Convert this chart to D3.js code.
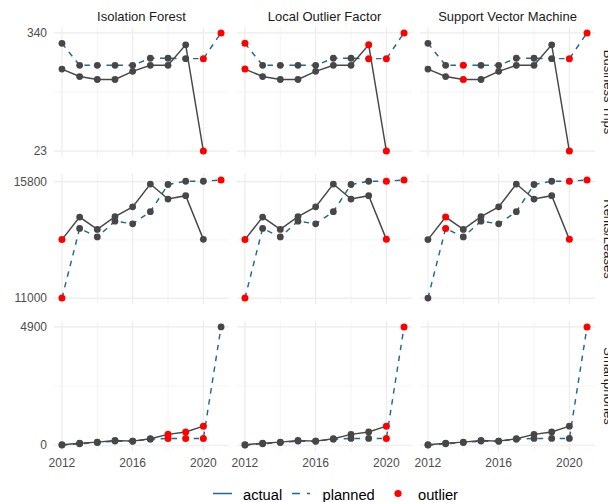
<!DOCTYPE html>
<html><head><meta charset="utf-8">
<script src="https://cdn.jsdelivr.net/npm/d3@7"></script>
<style>body{margin:0;background:#fff;} svg{display:block;font-family:"Liberation Sans",Arial,Helvetica,sans-serif;}</style>
</head><body><svg id="c" width="608" height="502"></svg>
<script>
// ---------------- data ----------------
const years = [2012,2013,2014,2015,2016,2017,2018,2019,2020,2021];
const methods = ["Isolation Forest","Local Outlier Factor","Support Vector Machine"];
const metrics = ["Business Trips","Rents/Leases","Smartphones"];

const tripsActual  = [243,223,215,215,237,253,253,308,23,null];
const tripsPlanned = [312,253,253,253,253,272,272,271,271,340];
const rentsActual  = [13410,14340,13830,14360,14760,15700,15080,15220,13420,null];
const rentsPlanned = [11000,13870,13520,14170,14060,14560,15680,15815,15815,15870];
const phonesActual = [20,85,127,195,170,267,450,550,790,null];
const phonesPlanned= [5,60,110,170,165,250,282,282,282,4900];

const tripsTicks  = [23,340];
const rentsTicks  = [11000,15800];
const phonesTicks = [0,4900];
const yearTicks   = [2012,2016,2020];

// outliers: "a" = actual, "p" = planned, followed by year
const outIF_trips  = ["a2020","p2020","p2021"];
const outIF_rents  = ["a2012","p2012","p2021"];
const outIF_phones = ["a2018","p2018","a2019","p2019","a2020","p2020"];
const outLOF_trips  = ["a2012","p2012","a2019","p2019","a2020","p2020","p2021"];
const outLOF_rents  = ["a2012","p2012","a2020","p2020","p2021"];
const outLOF_phones = ["a2020","p2020","p2021"];
const outSVM_trips  = ["a2014","p2014","a2020","p2020","p2021"];
const outSVM_rents  = ["a2013","p2013","p2020","a2020","p2021"];
const outSVM_phones = ["p2021"];

const legendLabels = ["actual","planned","outlier"];

// ---------------- layout ----------------
const rowsData = [
  {actual: tripsActual,  planned: tripsPlanned,  ticks: tripsTicks},
  {actual: rentsActual,  planned: rentsPlanned,  ticks: rentsTicks},
  {actual: phonesActual, planned: phonesPlanned, ticks: phonesTicks}
];
const outliers = [
  [outIF_trips, outLOF_trips, outSVM_trips],
  [outIF_rents, outLOF_rents, outSVM_rents],
  [outIF_phones, outLOF_phones, outSVM_phones]
];

const panelW = 175, panelH = 130;
const colX = [54, 237, 420];
const rowY = [27, 174, 321];
const GRID = "#EBEBEB", DARK = "#474747", BLUE = "#1F6A93", RED = "#FF0000";

const svg = d3.select("#c");

const xs = colX.map(x0 => {
  const e = (years[years.length-1]-years[0])*0.05;
  return d3.scaleLinear().domain([years[0]-e, years[years.length-1]+e]).range([x0, x0+panelW]);
});
const ys = rowsData.map((r,i) => {
  const vals = r.actual.concat(r.planned).filter(v => v != null);
  const [lo, hi] = d3.extent(vals);
  const e = (hi-lo)*0.05;
  return d3.scaleLinear().domain([lo-e, hi+e]).range([rowY[i]+panelH, rowY[i]]);
});

// grid
rowsData.forEach((r, ri) => {
  const y = ys[ri];
  const mid = (r.ticks[0]+r.ticks[1])/2;
  methods.forEach((m, ci) => {
    const x = xs[ci];
    const g = svg.append("g");
    // minor
    [2014, 2018].forEach(v => g.append("line").attr("x1", x(v)).attr("x2", x(v))
      .attr("y1", rowY[ri]).attr("y2", rowY[ri]+panelH).attr("stroke", GRID).attr("stroke-width", 0.55));
    g.append("line").attr("x1", colX[ci]).attr("x2", colX[ci]+panelW).attr("y1", y(mid)).attr("y2", y(mid))
      .attr("stroke", GRID).attr("stroke-width", 0.55);
    // major
    yearTicks.forEach(v => g.append("line").attr("x1", x(v)).attr("x2", x(v))
      .attr("y1", rowY[ri]).attr("y2", rowY[ri]+panelH).attr("stroke", GRID).attr("stroke-width", 1.1));
    r.ticks.forEach(v => g.append("line").attr("x1", colX[ci]).attr("x2", colX[ci]+panelW).attr("y1", y(v)).attr("y2", y(v))
      .attr("stroke", GRID).attr("stroke-width", 1.1));
  });
});

// data marks
rowsData.forEach((r, ri) => {
  const y = ys[ri];
  methods.forEach((m, ci) => {
    const x = xs[ci];
    const g = svg.append("g");
    const pts = s => years.map((yr, i) => ({yr, v: r[s][i], key: (s==="actual"?"a":"p")+yr})).filter(d => d.v != null);
    const line = d3.line().x(d => x(d.yr)).y(d => y(d.v));
    g.append("path").attr("d", line(pts("planned"))).attr("fill","none").attr("stroke", BLUE)
      .attr("stroke-width", 1.45).attr("stroke-dasharray", "5.5,5.5");
    g.append("path").attr("d", line(pts("actual"))).attr("fill","none").attr("stroke", DARK)
      .attr("stroke-width", 1.45);
    const out = outliers[ri][ci];
    const all = pts("planned").concat(pts("actual"));
    all.filter(d => !out.includes(d.key)).forEach(d =>
      g.append("circle").attr("cx", x(d.yr)).attr("cy", y(d.v)).attr("r", 3.4).attr("fill", DARK));
    all.filter(d => out.includes(d.key)).forEach(d =>
      g.append("circle").attr("cx", x(d.yr)).attr("cy", y(d.v)).attr("r", 3.5).attr("fill", RED));
  });
});

// y axis labels (left column only)
rowsData.forEach((r, ri) => {
  r.ticks.forEach(v => svg.append("text").attr("x", 47).attr("y", ys[ri](v)).attr("dy", "0.35em")
    .attr("text-anchor", "end").attr("font-size", 12).attr("fill", "#4D4D4D").text(v));
});
// x axis labels (bottom row)
methods.forEach((m, ci) => {
  yearTicks.forEach(v => svg.append("text").attr("x", xs[ci](v)).attr("y", 467)
    .attr("text-anchor", "middle").attr("font-size", 12).attr("fill", "#4D4D4D").text(v));
});
// strips
methods.forEach((m, ci) => svg.append("text").attr("x", colX[ci]+panelW/2).attr("y", 21)
  .attr("text-anchor", "middle").attr("font-size", 13).attr("fill", "#1A1A1A").text(m));
metrics.forEach((m, ri) => svg.append("text")
  .attr("transform", `translate(603.5,${rowY[ri]+panelH/2}) rotate(90)`)
  .attr("text-anchor", "middle").attr("font-size", 13).attr("fill", "#1A1A1A").text(m));

// legend
const lg = svg.append("g");
const ly = 493.5;
lg.append("line").attr("x1", 213).attr("x2", 232).attr("y1", ly).attr("y2", ly).attr("stroke", BLUE).attr("stroke-width", 1.5);
lg.append("text").attr("x", 243).attr("y", 499.5).attr("font-size", 14.7).attr("fill", "#000").text(legendLabels[0]);
lg.append("line").attr("x1", 292).attr("x2", 310).attr("y1", ly).attr("y2", ly).attr("stroke", BLUE).attr("stroke-width", 1.5)
  .attr("stroke-dasharray", "8,7");
lg.append("text").attr("x", 322.5).attr("y", 499.5).attr("font-size", 14.7).attr("fill", "#000").text(legendLabels[1]);
lg.append("circle").attr("cx", 398).attr("cy", ly).attr("r", 3.6).attr("fill", RED);
lg.append("text").attr("x", 418).attr("y", 499.5).attr("font-size", 14.7).attr("fill", "#000").text(legendLabels[2]);
</script></body></html>
